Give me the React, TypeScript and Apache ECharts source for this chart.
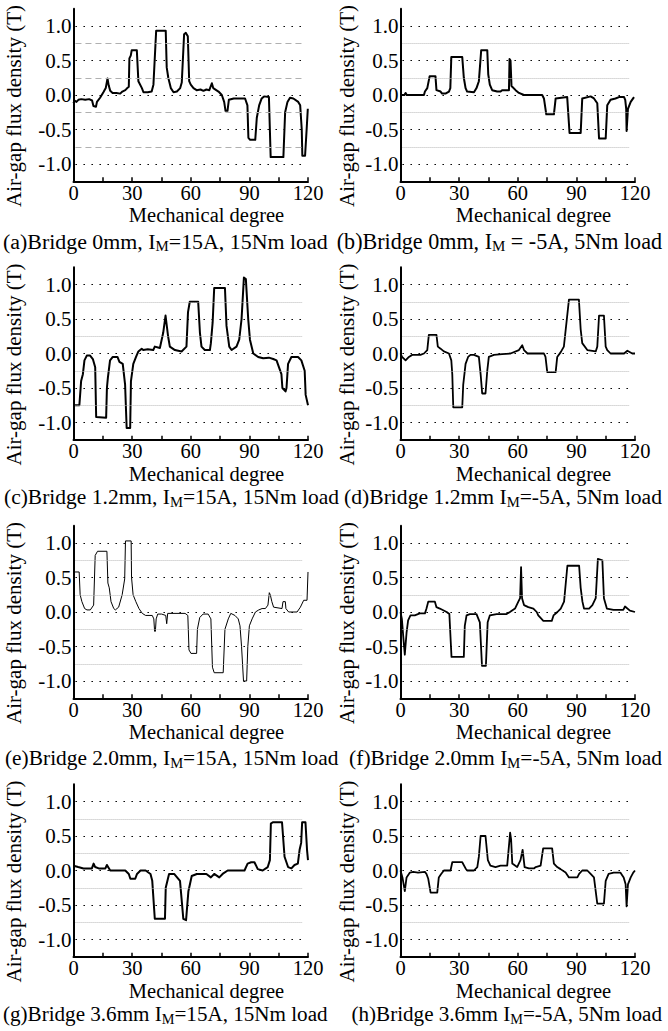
import React, { useEffect, useRef } from "react";
import * as echarts from "echarts";

// ---- data: [mechanical degree, air-gap flux density (T)] ----
const traceA: number[][] = [
  [0,-0.12],[0.5,-0.08],[1.5,-0.1],[2.5,-0.07],[4,-0.06],[6,-0.07],[8,-0.06],[9.5,-0.08],[10.2,-0.16],[11.5,-0.17],[12,-0.1],[13.6,-0.04],[15.3,0.04],[16.5,0.1],[17.4,0.24],[18,0.14],[18.8,0.06],[20,0.03],[22,0.03],[23.9,0.02],[25,0.05],[26.5,0.07],[27.5,0.1],[28.3,0.12],[28.6,0.53],[29.3,0.57],[29.8,0.65],[32.4,0.65],[33.2,0.2],[35,0.1],[35.8,0.04],[38,0.04],[40,0.05],[40.9,0.15],[42.3,0.93],[47.2,0.93],[47.7,0.4],[48.5,0.25],[49.8,0.1],[51.2,0.04],[52.9,0.05],[54.6,0.1],[55.4,0.18],[56.6,0.88],[57.5,0.9],[58.5,0.85],[59.2,0.2],[60,0.15],[61.4,0.1],[63,0.07],[65,0.08],[66.5,0.06],[68,0.08],[69.5,0.07],[70.8,0.17],[71.5,0.1],[74.2,0.05],[75.9,0.0],[77.1,-0.1],[77.8,-0.23],[78.8,-0.23],[79.5,-0.07],[82,-0.05],[87.8,-0.05],[89,-0.15],[89.5,-0.62],[90.4,-0.65],[93,-0.65],[93.8,-0.33],[95,-0.15],[96.3,-0.05],[97.5,-0.02],[100,-0.03],[100.9,-0.9],[107.4,-0.9],[108.3,-0.25],[109.5,-0.1],[110.8,-0.04],[112.5,-0.05],[115,-0.1],[116,-0.15],[116.8,-0.5],[117.1,-0.88],[118.5,-0.88],[119.3,-0.5],[119.9,-0.2]
];
const traceB: number[][] = [
  [0,0],[2,0],[2.6,0.03],[3.2,0],[12,0.0],[12.5,0.05],[13.7,0.1],[14.9,0.27],[17.9,0.27],[18.4,0.07],[20.5,0.05],[21.3,0.02],[23,0.02],[24.8,0.05],[25.5,0.1],[26,0.55],[31.6,0.55],[32.4,0.25],[33.3,0.1],[34.1,0.05],[37.6,0.04],[38.9,0.1],[40.1,0.2],[41.3,0.65],[44.4,0.65],[44.9,0.3],[45.7,0.15],[46.9,0.07],[49.5,0.05],[51.2,0.05],[52,0.07],[55.5,0.07],[55.8,0.52],[56.3,0.5],[56.8,0.13],[58.9,0.07],[60.6,0.03],[63.2,0.0],[72.5,0.0],[73.4,-0.05],[74.6,-0.28],[78.5,-0.28],[79.4,-0.05],[85.3,-0.03],[86.5,-0.55],[92.2,-0.55],[93,-0.05],[97.3,-0.02],[99,-0.05],[100.7,-0.12],[101.6,-0.63],[105,-0.63],[105.8,-0.15],[107.5,-0.07],[110,-0.05],[111.8,-0.03],[114.4,-0.03],[115,-0.07],[115.5,-0.2],[115.7,-0.52],[116.4,-0.2],[117.8,-0.1],[119.5,-0.03]
];
const traceC: number[][] = [
  [0,-0.75],[3,-0.75],[3.9,-0.4],[4.8,-0.3],[5.6,-0.1],[6.8,-0.03],[8.5,-0.03],[9.9,-0.08],[11.1,-0.2],[11.6,-0.92],[16.7,-0.93],[17.1,-0.5],[17.6,-0.35],[18.7,-0.1],[20.1,-0.05],[22.5,-0.05],[23.5,-0.12],[25.2,-0.15],[26.4,-0.45],[27.2,-1.08],[29,-1.08],[29.4,-0.4],[30.6,-0.15],[32,-0.05],[33.2,0.03],[34.9,0.07],[35.7,0.05],[38,0.06],[40.8,0.05],[41.6,0.1],[44.2,0.08],[45.9,0.3],[47.1,0.55],[48.4,0.25],[49.3,0.1],[51.9,0.05],[55.3,0.03],[57.8,0.1],[58.6,0.6],[59.5,0.75],[63.8,0.75],[64.7,0.3],[65.5,0.1],[67.2,0.05],[69.8,0.05],[70.3,0.15],[71.2,0.45],[72,0.95],[77.5,0.95],[78.3,0.4],[79.7,0.1],[80.9,0.05],[83.4,0.1],[84.8,0.2],[86,0.5],[87.2,1.1],[88.2,1.08],[89.4,0.5],[90.3,0.2],[92,0.0],[94.5,-0.05],[97.1,-0.07],[100,-0.06],[102.2,-0.08],[103.9,-0.1],[106.4,-0.3],[106.9,-0.5],[108.5,-0.55],[109,-0.5],[109.8,-0.15],[111.5,-0.05],[114.9,-0.05],[116.6,-0.1],[118.3,-0.25],[118.8,-0.6],[120,-0.75]
];
const traceD: number[][] = [
  [0,0],[0.8,-0.05],[2.6,-0.1],[4.3,-0.05],[6,-0.02],[10.2,-0.02],[12,0.0],[13.7,0.05],[14.5,0.27],[18.4,0.27],[19.1,0.1],[20.5,0.07],[22.2,0.03],[24.8,0.0],[26,-0.1],[26.5,-0.3],[27,-0.78],[31.6,-0.78],[32.1,-0.45],[33.3,-0.15],[34.6,-0.05],[35.8,-0.02],[37.6,-0.02],[40.1,-0.05],[41,-0.3],[41.8,-0.58],[43.5,-0.58],[44.4,-0.25],[45.2,-0.05],[47.8,-0.02],[52,-0.01],[56.3,0.0],[60.6,0.05],[62.3,0.12],[63.2,0.05],[65,0.0],[73.4,0.0],[74.2,-0.05],[75.1,-0.27],[79.4,-0.27],[80.2,-0.05],[82,0.02],[83.6,0.1],[86.2,0.78],[91.3,0.78],[92.2,0.35],[93,0.15],[95.6,0.05],[99.9,0.03],[100.7,0.1],[101.6,0.55],[104.1,0.55],[105,0.1],[105.8,0.05],[107.5,0.0],[114.4,0.0],[116.1,0.04],[118.6,0.0],[120,0.0]
];
const traceE: number[][] = [
  [0,0.58],[2.9,0.58],[3.4,0.25],[4.3,0.15],[5.7,0.05],[6.9,0.03],[8.6,0.03],[10.3,0.1],[11.1,0.82],[12.3,0.88],[17.1,0.88],[17.6,0.42],[18.3,0.35],[19.2,0.15],[20.6,0.05],[21.4,0.03],[23.1,0.07],[24.9,0.25],[26.2,0.48],[26.6,1.03],[29.5,1.03],[29.7,0.5],[30.5,0.25],[31.9,0.15],[33.5,0.05],[35.2,-0.02],[36.9,-0.05],[40.3,-0.05],[41.1,-0.1],[41.5,-0.28],[41.9,-0.28],[42.3,-0.1],[43.1,-0.03],[45.1,-0.03],[47.2,-0.05],[47.7,-0.17],[48.2,-0.02],[57.1,-0.02],[58.5,-0.05],[59.1,-0.55],[60.1,-0.6],[63,-0.6],[63.4,-0.25],[64.6,-0.08],[66.3,-0.03],[68.9,-0.03],[70.3,-0.1],[71.1,-0.8],[72,-0.88],[76.6,-0.88],[77.5,-0.25],[79.2,-0.1],[80.5,-0.02],[82.6,-0.05],[84.3,-0.1],[85.2,-0.2],[86,-0.5],[87,-1.0],[88.6,-1.0],[89.2,-0.5],[90,-0.2],[91.4,-0.1],[93.1,0.0],[94.8,0.03],[96.5,0.05],[98.2,0.05],[99.5,0.1],[100.2,0.28],[100.7,0.25],[101.5,0.15],[102.4,0.07],[106.7,0.05],[107.2,0.15],[108.4,0.15],[108.7,0.05],[110.1,0.0],[114.4,0.0],[116.1,0.07],[117.8,0.17],[119.5,0.17],[120,0.58]
];
const traceF: number[][] = [
  [0,0],[0.7,-0.1],[1.4,-0.35],[2.2,-0.62],[3.1,-0.3],[3.9,-0.12],[5.1,-0.05],[7.3,-0.05],[9.9,-0.02],[12.5,-0.02],[13.3,0.05],[14.2,0.15],[17.6,0.15],[18.4,0.07],[20.1,0.05],[23.6,0.0],[25,-0.03],[26.1,-0.65],[32.4,-0.65],[32.9,-0.2],[33.8,-0.05],[35.5,-0.03],[38.9,-0.03],[40.6,-0.15],[41.7,-0.78],[43.7,-0.78],[44.6,-0.15],[45.7,-0.05],[49.2,-0.03],[54.3,-0.03],[56,0.0],[58.6,0.05],[60.3,0.15],[61.2,0.2],[61.7,0.65],[62.2,0.2],[63.2,0.1],[65.4,0.07],[68,0.05],[69.7,0.0],[70.5,-0.05],[73.1,-0.13],[77.4,-0.13],[78.3,-0.05],[80.3,0.0],[82,0.05],[83.7,0.15],[85.4,0.67],[91.4,0.67],[92.2,0.35],[93.1,0.15],[93.9,0.05],[96.5,0.05],[98.2,0.1],[99.9,0.2],[101,0.77],[103.3,0.75],[104.1,0.2],[105.6,0.05],[109,0.03],[114,0.03],[114.9,0.08],[117.4,0.02],[120,0.0]
];
const traceG: number[][] = [
  [0,0.07],[2.4,0.05],[5.1,0.03],[9.4,0.03],[10.3,0.1],[11.1,0.05],[12.9,0.03],[16.3,0.03],[17.1,0.08],[18.8,0.0],[26.5,0.0],[28.3,-0.05],[29.1,-0.12],[31.6,-0.12],[32.5,-0.05],[34.3,0.0],[36.9,0.0],[39.4,-0.05],[40.3,-0.15],[41.6,-0.7],[46.8,-0.7],[47.2,-0.25],[48.9,-0.05],[51.5,-0.05],[54.5,-0.15],[56.2,-0.7],[57.6,-0.72],[58.8,-0.3],[60.5,-0.08],[63.1,-0.05],[68,-0.05],[70.3,-0.1],[72,-0.05],[74.6,-0.1],[76.3,-0.05],[78.9,0.0],[87.5,0.0],[89.1,0.1],[90.9,0.12],[92.6,0.12],[94.3,0.02],[96.8,0.0],[99.4,0.05],[100.5,0.15],[101,0.68],[102,0.7],[106.7,0.7],[108,0.2],[109.8,0.05],[111.5,0.03],[113.1,0.08],[114.8,0.1],[115.7,0.3],[116.5,0.4],[117,0.7],[118.7,0.7],[119.5,0.3],[120,0.15]
];
const traceH: number[][] = [
  [0,0],[1,-0.1],[2.2,-0.3],[3.1,-0.1],[4.8,-0.03],[6.5,-0.02],[9,-0.03],[12.5,-0.02],[13.3,-0.05],[14.2,-0.12],[15.4,-0.32],[18.8,-0.32],[19.6,-0.1],[20.8,-0.05],[22.2,0.0],[25.6,0.0],[26.5,0.12],[31.6,0.12],[33.3,0.03],[34.1,0.0],[37.6,0.0],[39.3,0.05],[40.1,0.2],[41,0.5],[43.5,0.5],[44.7,0.15],[46,0.07],[48.6,0.05],[51.2,0.07],[54.6,0.07],[56.1,0.55],[56.6,0.45],[57.2,0.1],[59.7,0.05],[61.4,0.15],[62.5,0.3],[63.5,0.05],[65.7,0.03],[68.3,0.03],[69.2,0.05],[71.7,0.07],[73,0.32],[77.6,0.32],[78.5,0.1],[80.2,0.05],[81.9,0.02],[84.5,-0.03],[86.2,-0.1],[90.5,-0.1],[91.4,-0.05],[93,0.0],[95.6,0.0],[97.3,-0.05],[99,-0.1],[100.7,-0.48],[104.1,-0.48],[105,-0.15],[106.5,-0.05],[109.1,-0.03],[112.5,-0.03],[114.2,-0.1],[115.2,-0.2],[115.7,-0.52],[116.4,-0.2],[117.8,-0.1],[119.1,-0.03],[120,0.0]
];

const captions: string[] = [
  "(a)Bridge 0mm, I{sub|M}=15A, 15Nm load",
  "(b)Bridge 0mm, I{sub|M} = -5A, 5Nm load",
  "(c)Bridge 1.2mm, I{sub|M}=15A, 15Nm load",
  "(d)Bridge 1.2mm I{sub|M}=-5A, 5Nm load",
  "(e)Bridge 2.0mm, I{sub|M}=15A, 15Nm load",
  "(f)Bridge 2.0mm I{sub|M}=-5A, 5Nm load",
  "(g)Bridge 3.6mm I{sub|M}=15A, 15Nm load",
  "(h)Bridge 3.6mm I{sub|M}=-5A, 5Nm load",
];
const traces = [traceA, traceB, traceC, traceD, traceE, traceF, traceG, traceH];
const lineWidths = [2, 2, 2, 1.8, 1, 1.8, 2, 1.8];

const yMajor = [-1, -0.5, 0, 0.5, 1];
const yMinor = [-0.75, -0.25, 0.25, 0.75];
const xTickStep = 15;
const xLabelStep = 30;
const X_NAME = "Mechanical degree";
const Y_NAME = "Air-gap flux density (T)";

// ---- layout ----
const FONT = "'Liberation Serif', 'Times New Roman', serif";
const GRID_W = 234.5;
const GRID_H = 172.5;
const COL_LEFT = [73.5, 400.5];
const ROW_TOP = [8.75, 267.25, 525.75, 784.25];
const CAPTION_Y = [241, 497, 758, 1014];
const CAPTION_SIZE = [21.9, 22.1, 21.5, 21.6, 21.4, 21.5, 21.1, 21.1];
const CAPTION_X = [3, 662, 4, 662, 5, 662, 3, 662];
const GRID_LINE_START = 1;
const GRID_LINE_END = 117;

function buildOption() {
  const grids: any[] = [];
  const xAxes: any[] = [];
  const yAxes: any[] = [];
  const series: any[] = [];
  const elements: any[] = [];

  traces.forEach((trace, i) => {
    const row = Math.floor(i / 2);
    const col = i % 2;
    const left = COL_LEFT[col];
    const top = ROW_TOP[row];
    grids.push({ left, top, width: GRID_W, height: GRID_H, containLabel: false });
    xAxes.push({
      gridIndex: i,
      type: "value",
      min: 0,
      max: 120,
      interval: xTickStep,
      axisLine: { show: true, onZero: false, lineStyle: { color: "#000", width: 2 } },
      axisTick: { show: true, inside: true, length: 4, lineStyle: { color: "#000", width: 1.5 } },
      axisLabel: {
        color: "#000",
        fontFamily: FONT,
        fontSize: 20.5,
        margin: 1,
        showMinLabel: true,
        showMaxLabel: true,
        formatter: (v: number) => (Math.round(v) % xLabelStep === 0 ? String(Math.round(v)) : ""),
      },
      splitLine: { show: false },
    });
    yAxes.push({
      gridIndex: i,
      type: "value",
      min: -1.25,
      max: 1.25,
      interval: 0.25,
      axisLine: { show: true, onZero: false, lineStyle: { color: "#000", width: 2 } },
      axisTick: { show: false },
      axisLabel: {
        color: "#000",
        fontFamily: FONT,
        fontSize: 21,
        margin: 2,
        formatter: (v: number) => {
          const q = Math.round(v * 4);
          if (Math.abs(v) > 1.001 || q % 2 !== 0) return "";
          return (q / 4).toFixed(1);
        },
      },
      splitLine: { show: false },
    });
    const majorStyle = { color: "#000", width: 1.2, type: [1.5, 6.5] };
    const minorStyle =
      i === 0
        ? { color: "#b0b0b0", width: 1.2, type: [6, 4] }
        : { color: "#b8b8b8", width: 1, type: [1, 1] };
    const markData: any[] = [];
    yMinor.forEach((y) =>
      markData.push([
        { coord: [GRID_LINE_START, y], lineStyle: minorStyle },
        { coord: [GRID_LINE_END, y], lineStyle: minorStyle },
      ])
    );
    yMajor.forEach((y) =>
      markData.push([
        { coord: [GRID_LINE_START, y], lineStyle: majorStyle },
        { coord: [GRID_LINE_END, y], lineStyle: majorStyle },
      ])
    );
    series.push({
      type: "line",
      xAxisIndex: i,
      yAxisIndex: i,
      data: trace,
      showSymbol: false,
      symbol: "none",
      z: 3,
      lineStyle: { color: "#000", width: lineWidths[i], join: "round" },
      markLine: {
        silent: true,
        symbol: ["none", "none"],
        label: { show: false },
        animation: false,
        data: markData,
      },
    });

    // y axis name (rotated)
    elements.push({
      type: "text",
      x: col === 0 ? 13.5 : 347,
      y: top + GRID_H / 2 + 11,
      rotation: Math.PI / 2,
      style: {
        text: Y_NAME,
        fontFamily: FONT,
        fontSize: 21,
        fill: "#000",
        align: "center",
        verticalAlign: "middle",
      },
    });
    // x axis name
    elements.push({
      type: "text",
      x: left + 133,
      y: top + GRID_H + 34,
      style: {
        text: X_NAME,
        fontFamily: FONT,
        fontSize: 20.5,
        fill: "#000",
        align: "center",
        verticalAlign: "middle",
      },
    });
    // caption
    const fs = CAPTION_SIZE[i];
    elements.push({
      type: "text",
      x: CAPTION_X[i],
      y: CAPTION_Y[row],
      style: {
        text: captions[i],
        fontFamily: FONT,
        fontSize: fs,
        lineHeight: 24,
        fill: "#000",
        align: col === 0 ? "left" : "right",
        verticalAlign: "middle",
        rich: {
          sub: {
            fontFamily: FONT,
            fontSize: Math.round(fs * 0.68 * 10) / 10,
            lineHeight: 15,
            verticalAlign: "bottom",
            fill: "#000",
          },
        },
      },
    });
  });

  return {
    animation: false,
    backgroundColor: "#fff",
    grid: grids,
    xAxis: xAxes,
    yAxis: yAxes,
    series,
    graphic: { elements },
  };
}

export default function App() {
  const ref = useRef<HTMLDivElement>(null);
  useEffect(() => {
    if (!ref.current) return;
    const chart = echarts.init(ref.current, undefined, { renderer: "svg" });
    chart.setOption(buildOption() as any);
    return () => chart.dispose();
  }, []);
  return (
    <div
      ref={ref}
      style={{ position: "absolute", left: 0, top: 0, width: 668, height: 1031, background: "#fff" }}
    />
  );
}
